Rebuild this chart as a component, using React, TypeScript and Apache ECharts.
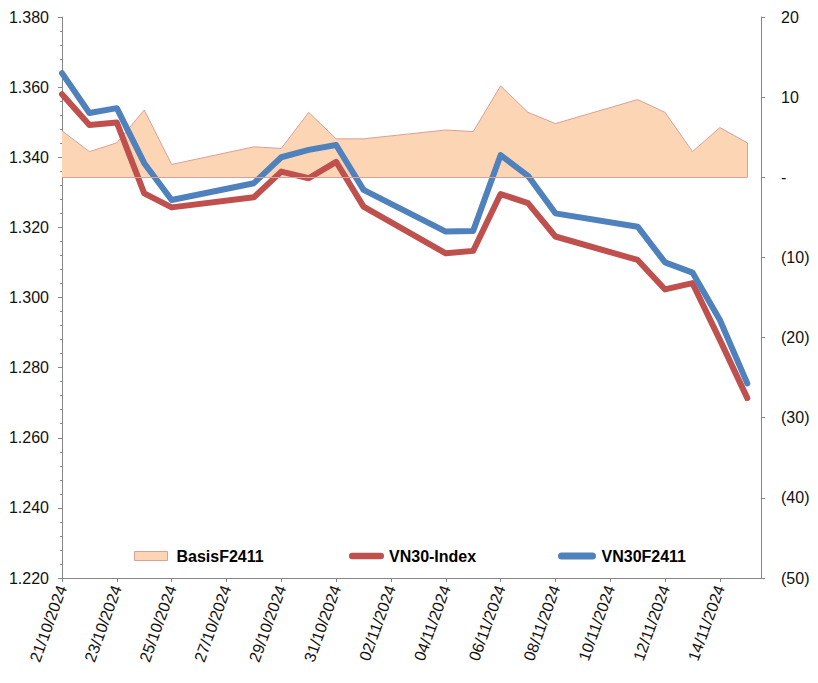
import React, { useEffect, useRef } from "react";
import * as echarts from "echarts";

const dates = [
  "21/10/2024", "22/10/2024", "23/10/2024", "24/10/2024", "25/10/2024",
  "28/10/2024", "29/10/2024", "30/10/2024", "31/10/2024", "01/11/2024",
  "04/11/2024", "05/11/2024", "06/11/2024", "07/11/2024", "08/11/2024",
  "11/11/2024", "12/11/2024", "13/11/2024", "14/11/2024", "15/11/2024",
];
const vn30F2411 = [
  1364.0, 1352.6, 1354.0, 1338.3, 1327.8, 1332.6, 1340.0, 1342.1, 1343.5, 1330.7,
  1318.8, 1319.0, 1340.6, 1334.7, 1324.0, 1320.2, 1310.0, 1307.1, 1293.6, 1275.5,
];
const vn30Index = [
  1358.0, 1349.2, 1349.9, 1329.7, 1325.7, 1328.6, 1335.9, 1334.0, 1338.7, 1325.9,
  1312.6, 1313.3, 1329.5, 1326.9, 1317.4, 1310.7, 1302.3, 1304.1, 1287.9, 1271.3,
];
const basisF2411 = [
  5.8, 3.2, 4.3, 8.4, 1.6, 3.8, 3.6, 8.1, 4.8, 4.8,
  5.9, 5.7, 11.4, 8.1, 6.7, 9.7, 8.1, 3.2, 6.2, 4.3,
];
const tickLabels = [
  "21/10/2024", "23/10/2024", "25/10/2024", "27/10/2024", "29/10/2024",
  "31/10/2024", "02/11/2024", "04/11/2024", "06/11/2024", "08/11/2024",
  "10/11/2024", "12/11/2024", "14/11/2024",
];

const parseDay = (s: string) => {
  const [d, m, y] = s.split("/").map(Number);
  return Date.UTC(y, m - 1, d) / 86400000;
};
const day0 = parseDay(dates[0]);
const off = (s: string) => parseDay(s) - day0;

const FONT = "Arial, 'Liberation Sans', sans-serif";
const AXIS_GRAY = "#868686";

export default function App() {
  const ref = useRef<HTMLDivElement>(null);
  useEffect(() => {
    if (!ref.current) return;
    const chart = echarts.init(ref.current, null, { renderer: "svg" });
    const xs = dates.map(off);
    const tickOffsets = tickLabels.map(off);
    const labelMap: Record<string, string> = {};
    tickLabels.forEach((t) => (labelMap[String(off(t))] = t));
    const lastX = xs[xs.length - 1];
    const lastBasis = basisF2411[basisF2411.length - 1];
    const capsule = "path://M3.5,0 L34.5,0 A3.5,3.5 0 0 1 34.5,7 L3.5,7 A3.5,3.5 0 0 1 3.5,0 Z";
    const legendText = { fontFamily: FONT, fontSize: 16, fontWeight: "bold" as const, color: "#000" };

    chart.setOption({
      animation: false,
      backgroundColor: "#fff",
      grid: { left: 62, right: 57, top: 17, bottom: 105 },
      legend: [
        {
          data: ["BasisF2411"], left: 134, top: 548, padding: 0, itemWidth: 33, itemHeight: 9,
          icon: "rect", textStyle: { ...legendText, padding: [0, 0, 0, 4] },
          itemStyle: { borderColor: "#D9A09A", borderWidth: 1 },
        },
        {
          data: ["VN30-Index"], left: 349, top: 548, padding: 0, itemWidth: 35, itemHeight: 7,
          icon: capsule, textStyle: legendText,
        },
        {
          data: ["VN30F2411"], left: 558, top: 548, padding: 0, itemWidth: 39, itemHeight: 7,
          icon: capsule, textStyle: legendText,
        },
      ],
      xAxis: {
        type: "value",
        min: 0,
        max: lastX + 0.5,
        splitLine: { show: false },
        axisLine: { onZero: false, lineStyle: { color: AXIS_GRAY, width: 1 } },
        axisTick: { show: true, length: 4, customValues: tickOffsets, lineStyle: { color: AXIS_GRAY } },
        axisLabel: {
          customValues: tickOffsets,
          rotate: 70,
          margin: 8,
          fontFamily: FONT,
          fontSize: 16,
          color: "#111",
          formatter: (v: number) => labelMap[String(v)] ?? "",
        },
      },
      yAxis: [
        {
          type: "value",
          min: 1220,
          max: 1380,
          interval: 20,
          position: "left",
          splitLine: { show: false },
          axisLine: { show: true, lineStyle: { color: AXIS_GRAY, width: 1 } },
          axisTick: { show: true, length: 4, lineStyle: { color: AXIS_GRAY } },
          minorTick: { show: true, splitNumber: 5, length: 2, lineStyle: { color: AXIS_GRAY } },
          axisLabel: {
            margin: 13,
            fontFamily: FONT,
            fontSize: 16,
            color: "#111",
            formatter: (v: number) => (v / 1000).toFixed(3),
          },
        },
        {
          type: "value",
          min: -50,
          max: 20,
          interval: 10,
          position: "right",
          splitLine: { show: false },
          axisLine: { show: true, lineStyle: { color: AXIS_GRAY, width: 1 } },
          axisTick: { show: true, length: 4, lineStyle: { color: AXIS_GRAY } },
          axisLabel: {
            margin: 20,
            fontFamily: FONT,
            fontSize: 16,
            color: "#111",
            formatter: (v: number) => (v === 0 ? "-" : v < 0 ? `(${-v})` : `${v}`),
          },
        },
      ],
      series: [
        {
          name: "BasisF2411",
          type: "line",
          yAxisIndex: 1,
          data: xs.map((x, i) => [x, basisF2411[i]]),
          symbol: "none",
          color: "#FCD5B5",
          lineStyle: { color: "#D9A09A", width: 1 },
          areaStyle: { color: "#FCD5B5", opacity: 1, origin: 0 },
          itemStyle: { color: "#FCD5B5" },
          z: 1,
          markLine: {
            silent: true,
            symbol: "none",
            label: { show: false },
            lineStyle: { color: "#D9A09A", width: 1, type: "solid" },
            data: [
              [{ coord: [xs[0], 0] }, { coord: [lastX, 0] }],
              [{ coord: [lastX, 0] }, { coord: [lastX, lastBasis] }],
            ],
          },
        },
        {
          name: "VN30-Index",
          type: "line",
          yAxisIndex: 0,
          data: xs.map((x, i) => [x, vn30Index[i]]),
          symbol: "none",
          color: "#C0504D",
          lineStyle: { color: "#C0504D", width: 6, cap: "round", join: "round" },
          z: 3,
        },
        {
          name: "VN30F2411",
          type: "line",
          yAxisIndex: 0,
          data: xs.map((x, i) => [x, vn30F2411[i]]),
          symbol: "none",
          color: "#4F81BD",
          lineStyle: { color: "#4F81BD", width: 6, cap: "round", join: "round" },
          z: 4,
        },
      ],
    });
    return () => chart.dispose();
  }, []);
  return (
    <div
      ref={ref}
      style={{ position: "fixed", left: 0, top: 0, width: 818, height: 683, background: "#fff" }}
    />
  );
}
